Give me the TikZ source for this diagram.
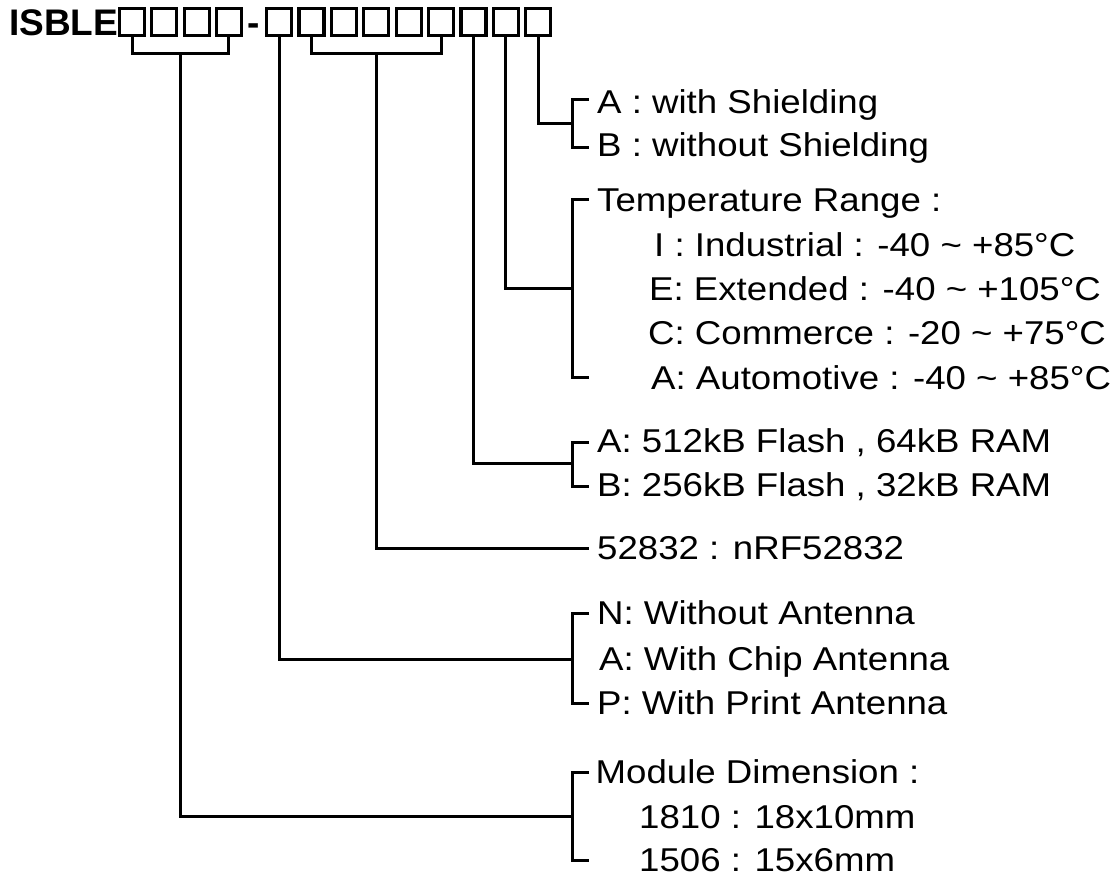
\documentclass[tikz,border=0pt]{standalone}
\usepackage{fontspec}
\setmainfont{Liberation Sans}[FakeStretch=1.11]
\newfontfamily\isfont{Liberation Sans}
\begin{document}
\begin{tikzpicture}[x=1pt,y=-1pt,
  cell/.style={draw,line width=3.2pt,minimum width=25pt,minimum height=27pt,inner sep=0pt},
  wire/.style={line width=3pt},
  lbl/.style={anchor=base west,inner sep=0pt,font=\fontsize{33}{36}\selectfont},
  code/.style={inner sep=0pt,font=\isfont\bfseries\fontsize{37}{40}\selectfont}]
\useasboundingbox (0,0) rectangle (1114,879);

% part number
\node[code,anchor=base west] (isble) at (9,35) {ISBLE};
\foreach \i in {1,...,4} \node[cell] (b\i) at ({132+32.3*(\i-1)},22) {};
\node[code,anchor=base] (dash) at (253.5,35) {-};
\foreach \i in {5,...,13} \node[cell] (b\i) at ({279+32.4*(\i-5)},22) {};

% labels
\node[lbl] (shA) at (597,113) {A : with Shielding};
\node[lbl] (shB) at (597,156) {B : without Shielding};
\node[lbl] (tmp) at (597,211.5) {Temperature Range :};
\node[lbl] (tI) at (654,256) {I : Industrial : -40 \textasciitilde{} +85°C};
\node[lbl] (tE) at (649,300.5) {E: Extended : -40 \textasciitilde{} +105°C};
\node[lbl] (tC) at (648,344.5) {C: Commerce : -20 \textasciitilde{} +75°C};
\node[lbl] (tA) at (651,389) {A: Automotive : -40 \textasciitilde{} +85°C};
\node[lbl] (mA) at (597,452.5) {A: 512kB Flash , 64kB RAM};
\node[lbl] (mB) at (597,496.5) {B: 256kB Flash , 32kB RAM};
\node[lbl] (chip) at (597,559.5) {52832 : nRF52832};
\node[lbl] (aN) at (597,624.5) {N: Without Antenna};
\node[lbl] (aA) at (599,670.5) {A: With Chip Antenna};
\node[lbl] (aP) at (597,714.5) {P: With Print Antenna};
\node[lbl] (dim) at (595.5,783.5) {Module Dimension :};
\node[lbl] (d1) at (639,828) {1810 : 18x10mm};
\node[lbl] (d2) at (639,871.5) {1506 : 15x6mm};

% group brackets under the boxes
\coordinate (g1) at (180.5,53);
\coordinate (g2) at (376.2,53);
\draw[wire] (b1.south) |- (g1) -| (b4.south);
\draw[wire] (b6.south) |- (g2) -| (b10.south);

% right-hand brackets
\coordinate (shT) at (589,99);  \coordinate (shM) at (572,123); \coordinate (shE) at (589,147);
\coordinate (tT) at (589,199);  \coordinate (tM) at (572,288);  \coordinate (tE2) at (589,377);
\coordinate (mT) at (589,442);  \coordinate (mM) at (572,463);  \coordinate (mE) at (589,486);
\coordinate (cE) at (589,548);
\coordinate (aT) at (589,613);  \coordinate (aM) at (572,659);  \coordinate (aE) at (589,703);
\coordinate (dT) at (589,772);  \coordinate (dM) at (572,816);  \coordinate (dE) at (589,860);

\draw[wire] (shT) -| (shM) |- (shE);
\draw[wire] (tT) -| (tM) |- (tE2);
\draw[wire] (mT) -| (mM) |- (mE);
\draw[wire] (aT) -| (aM) |- (aE);
\draw[wire] (dT) -| (dM) |- (dE);

% connectors
\draw[wire] (b13.south) |- (shM);
\draw[wire] (b12.south) |- (tM);
\draw[wire] (b11.south) |- (mM);
\draw[wire] (g2) |- (cE);
\draw[wire] (b5.south) |- (aM);
\draw[wire] (g1) |- (dM);
\end{tikzpicture}
\end{document}
